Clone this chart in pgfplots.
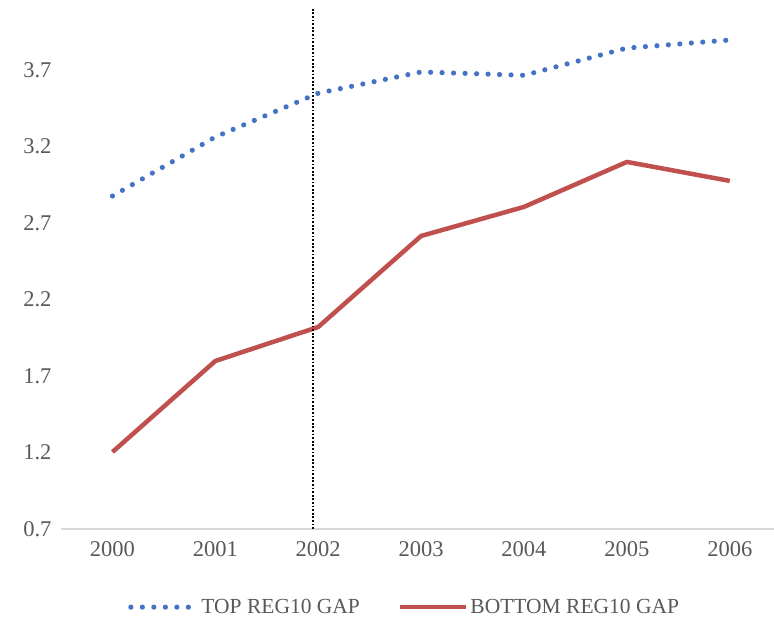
\documentclass[border=0pt]{standalone}
\usepackage{pgfplots}
\pgfplotsset{compat=1.18}
\usepackage{fontspec}
\setmainfont{Liberation Serif}
\definecolor{topblue}{HTML}{4472C4}
\definecolor{botred}{HTML}{C0504D}
\definecolor{txtgray}{HTML}{595959}
\definecolor{axgray}{HTML}{D9D9D9}
\begin{document}
\begin{tikzpicture}
\useasboundingbox (0,0) rectangle (774bp,622bp);
\begin{axis}[
  at={(61bp,93bp)}, anchor=south west,
  scale only axis,
  width=713bp, height=521bp,
  xmin=-0.5, xmax=6.43,
  ymin=0.7, ymax=4.105,
  axis x line*=bottom, axis y line*=left,
  x axis line style={draw=axgray, line width=1.2bp},
  y axis line style={draw=none},
  major tick length=0pt,
  xtick={0,1,2,3,4,5,6},
  xticklabels={2000,2001,2002,2003,2004,2005,2006},
  ytick={0.7,1.2,1.7,2.2,2.7,3.2,3.7},
  yticklabel style={/pgf/number format/fixed, /pgf/number format/fixed zerofill, /pgf/number format/precision=1, /pgf/number format/assume math mode=true, xshift=-6bp},
  ticklabel style={font=\fontsize{22.5bp}{24bp}\selectfont, text=txtgray},
  xticklabel style={yshift=-9bp},
  legend style={draw=none, fill=none, at={(0.482,-0.15)}, anchor=center,
    font=\fontsize{21.5bp}{24bp}\selectfont, text=txtgray,
    legend columns=2, /tikz/every even column/.append style={column sep=36bp}},
  legend image code/.code={\draw[#1] (0bp,0bp) -- (66bp,0bp);},
  clip=false,
]
\addplot[topblue, line width=5.2bp, line cap=round, dash pattern=on 0bp off 11.5bp]
  coordinates {(0,2.876) (1,3.262) (2,3.548) (3,3.687) (4,3.665) (5,3.843) (6,3.896)};
\addlegendentry{TOP REG10 GAP}
\addplot[botred, line width=4.5bp, line join=round]
  coordinates {(0,1.203) (1,1.798) (2,2.020) (3,2.615) (4,2.805) (5,3.099) (6,2.975)};
\addlegendentry{BOTTOM REG10 GAP}
\addplot[black, line width=1.8bp, dash pattern=on 1.8bp off 1.8bp, forget plot]
  coordinates {(1.95,0.7) (1.95,4.105)};
\end{axis}
\end{tikzpicture}
\end{document}
